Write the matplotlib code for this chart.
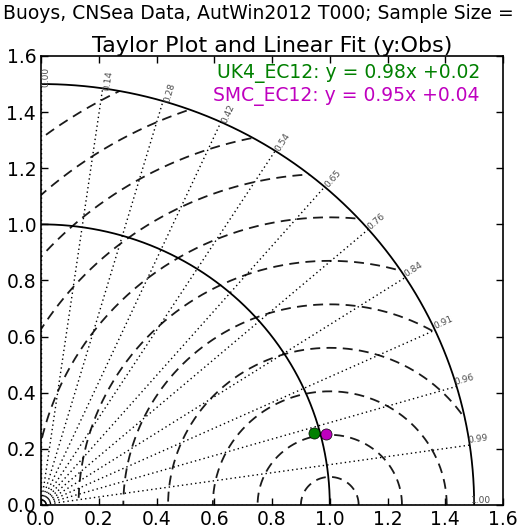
import numpy as np
import matplotlib
matplotlib.use("Agg")
import matplotlib.pyplot as plt
from matplotlib.patches import Wedge

# model points: normalised std and correlation with obs
models = ["UK4_EC12", "SMC_EC12"]
colors = ["#008000", "#bf00bf"]
std_norm = [0.979, 1.017]
corr = [0.965, 0.969]
fit_slope = [0.98, 0.95]
fit_icpt = [0.02, 0.04]

# correlation rays and their labels
corr_labels = ["0.00", "0.14", "0.28", "0.42", "0.54", "0.65",
               "0.76", "0.84", "0.91", "0.96", "0.99", "1.00"]
# RMS-difference circles around the obs point (1, 0)
rms_radii = [0.10, 0.25, 0.405, 0.56, 0.715, 0.87, 1.025, 1.18, 1.335, 1.49, 1.645]
std_arcs = [1.0, 1.5]
ticks = [0.0, 0.2, 0.4, 0.6, 0.8, 1.0, 1.2, 1.4, 1.6]

plt.rcParams["xtick.direction"] = "in"
plt.rcParams["ytick.direction"] = "in"
plt.rcParams["xtick.top"] = True
plt.rcParams["ytick.right"] = True

fig = plt.figure(figsize=(5.18, 5.30), dpi=100)
ax = fig.add_axes([0.0792, 0.0472, 0.8919, 0.8472])

rmax = 1.5
clip = Wedge((0, 0), rmax, 0, 90, transform=ax.transData)

# rms circles, dashed, clipped to the std = 1.5 quarter disc
phi = np.linspace(0, np.pi, 400)
for r in rms_radii:
    ln, = ax.plot(1 + r*np.cos(phi), r*np.sin(phi), '--', color='0.1', lw=1.3, dashes=(5.5, 3.5))
    ln.set_clip_path(clip)

# std arcs
th = np.linspace(0, np.pi/2, 300)
for s in std_arcs:
    ax.plot(s*np.cos(th), s*np.sin(th), '-', color='k', lw=1.3)

# correlation rays + labels
angles = np.linspace(0, 90, len(corr_labels))
for lab, a in zip(corr_labels, angles[::-1]):
    ar = np.radians(a)
    ax.plot([0, rmax*np.cos(ar)], [0, rmax*np.sin(ar)], ':', color='k', lw=1.0, dashes=(1, 2.2))
    ax.text(1.49*np.cos(ar), 1.49*np.sin(ar), lab, rotation=a, fontsize=6.5,
            color='0.3', ha='left', va='bottom')

# model points
for s, c, col in zip(std_norm, corr, colors):
    ax.plot(s*c, s*np.sqrt(1 - c**2), 'o', color=col, mec='k', mew=0.5, ms=8)

# linear fit text
for i, (m, col) in enumerate(zip(models, colors)):
    ax.text(1.52, 1.537 - 0.081*i, f"{m}: y = {fit_slope[i]:.2f}x +{fit_icpt[i]:.2f}",
            color=col, fontsize=13.5, ha='right', va='center')

ax.set_xlim(0, 1.6)
ax.set_ylim(0, 1.6)
ax.set_xticks(ticks)
ax.set_yticks(ticks)
ax.set_xticklabels([f"{t:.1f}" for t in ticks], fontsize=13.5)
ax.set_yticklabels([f"{t:.1f}" for t in ticks], fontsize=13.5)
ax.tick_params(length=5, width=1)
for sp in ax.spines.values():
    sp.set_linewidth(1.2)

fig.text(0.498, 0.993, "Buoys, CNSea Data, AutWin2012 T000; Sample Size =",
         ha='center', va='top', fontsize=13.5)
ax.set_title("Taylor Plot and Linear Fit (y:Obs)", fontsize=16, pad=3)

fig.savefig("out.png", dpi=100)
